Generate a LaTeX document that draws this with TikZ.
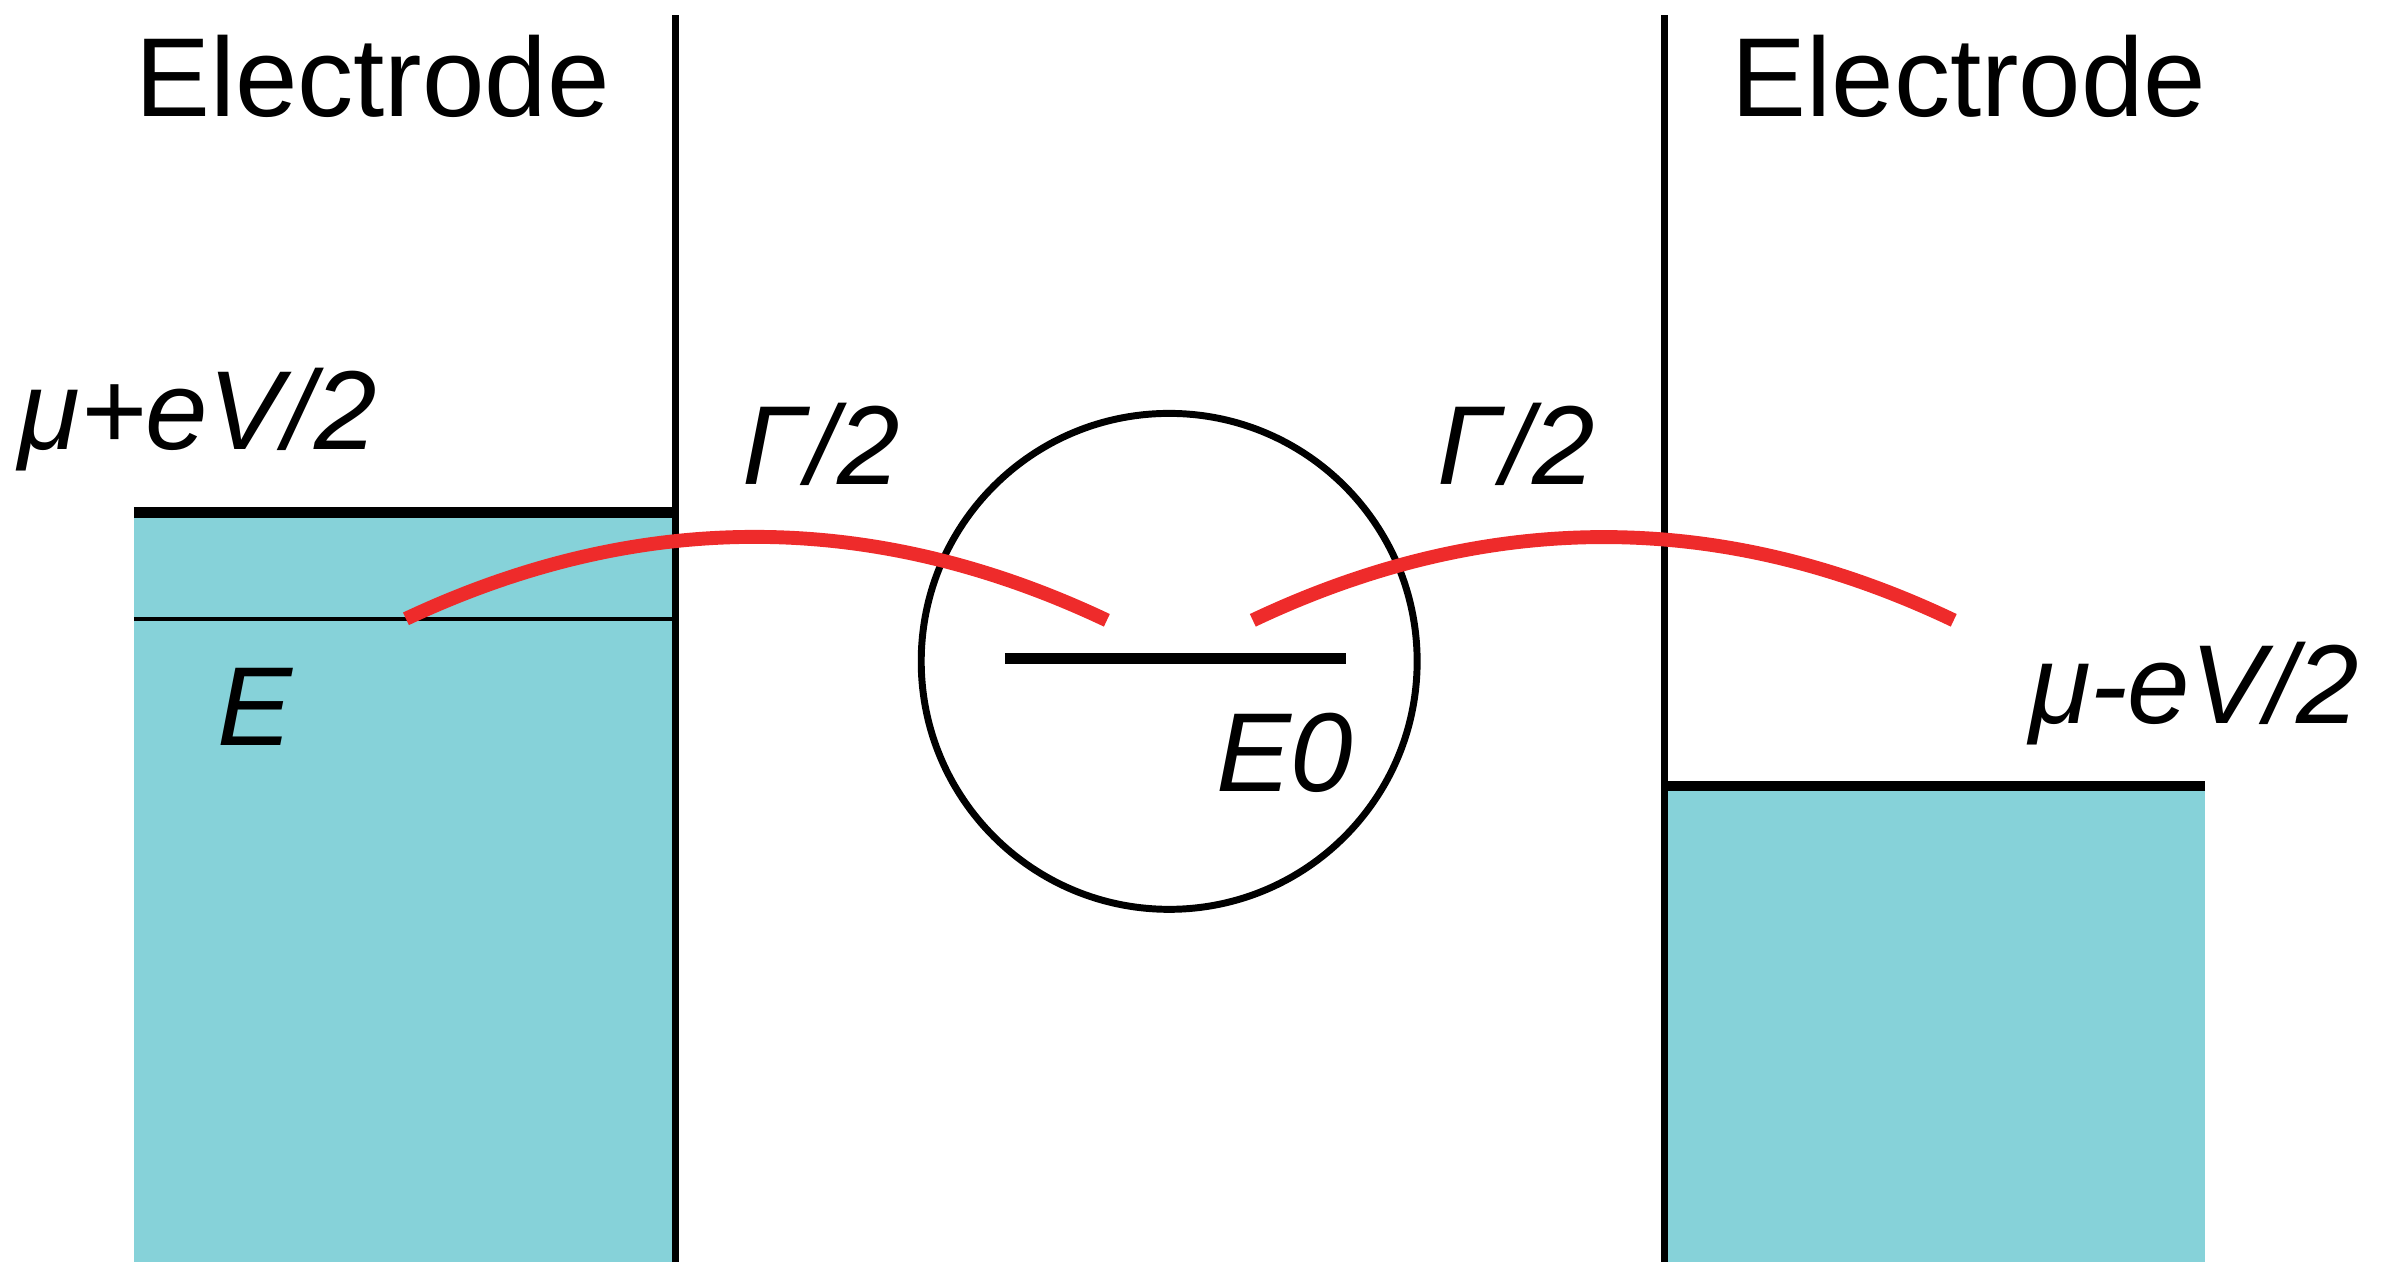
\documentclass[tikz,border=0pt]{standalone}
\usepackage{fontspec}
\setmainfont{Liberation Sans}
\usetikzlibrary{positioning}
\definecolor{bandfill}{HTML}{86D2D9}
\definecolor{hopred}{HTML}{EE2B2B}
\begin{document}
\begin{tikzpicture}[x=0.01cm, y=-0.01cm,
   lbl/.style={font=\fontsize{21pt}{24pt}\selectfont, inner sep=0pt},
   level/.style={line width=2pt},
   hop/.style={hopred, line width=2.6pt}]
   \useasboundingbox (0,0) rectangle (1568,843);
   % bands
   \fill[bandfill] (88,337) rectangle (444,830);
   \fill[bandfill] (1095,517) rectangle (1450,830);
   \draw[level] (88,337) -- (444,337);
   \draw[level] (1095,517) -- (1450,517);
   \draw[line width=0.8pt] (88,407) -- (444,407);
   % walls
   \draw[line width=1.3pt] (444,10) -- (444,830);
   \draw[line width=1.3pt] (1095,10) -- (1095,830);
   % dot
   \node[circle, draw, line width=1.3pt, minimum size=3.26cm] (dot) at (769,435) {};
   \draw[level] (661,433) -- (885,433);
   % hopping
   \coordinate (h1) at (267,407);
   \coordinate (h2) at (728,408);
   \coordinate (h3) at (824,408);
   \coordinate (h4) at (1285,408);
   \draw[hop] (h1) .. controls (420,335) and (574,335) .. (h2);
   \draw[hop] (h3) .. controls (978,335) and (1132,335) .. (h4);
   % labels
   \node[lbl] (elL) at (245,50) {Electrode};
   \node[lbl] (elR) at (1295,50) {Electrode};
   \node[lbl] (muL) at (130,276) {\textit{μ+eV/2}};
   \node[lbl] (muR) at (1443,456) {\textit{μ-eV/2}};
   \node[lbl] (gL) at (540,292) {\textit{Γ/2}};
   \node[lbl] (gR) at (997,292) {\textit{Γ/2}};
   \node[lbl] (eL) at (168,465) {\textit{E}};
   \node[lbl] (e0) at (845,495) {\textit{E0}};
\end{tikzpicture}
\end{document}
